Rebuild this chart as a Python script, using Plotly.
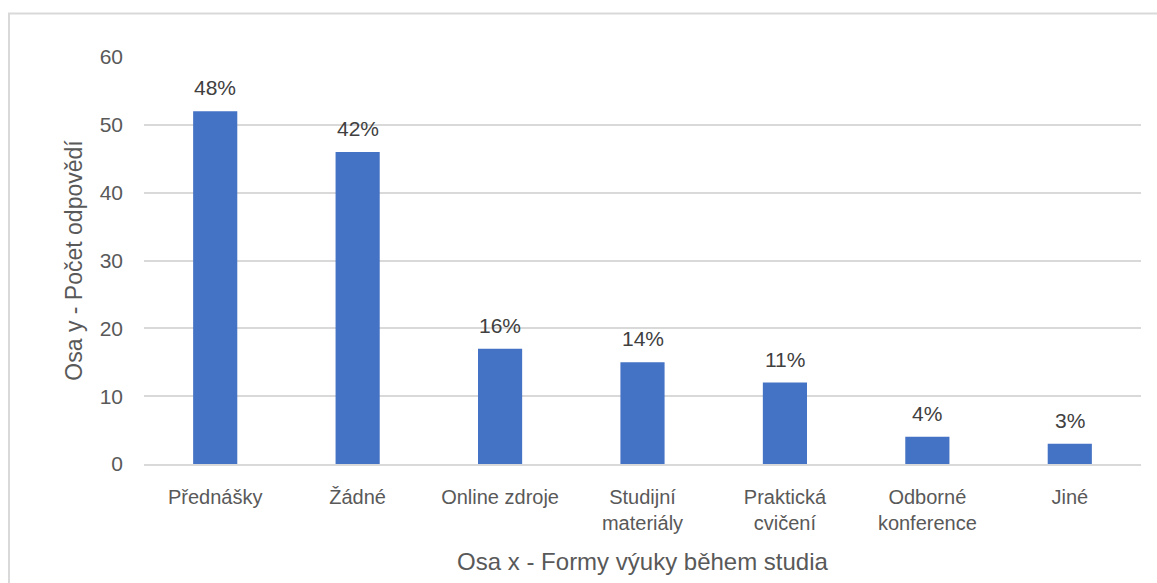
import plotly.graph_objects as go

# Survey results: number of answers per form of teaching
categories = ["Přednášky", "Žádné", "Online zdroje", "Studijní<br>materiály",
              "Praktická<br>cvičení", "Odborné<br>konference", "Jiné"]
counts = [52, 46, 17, 15, 12, 4, 3]
percent_labels = ["48%", "42%", "16%", "14%", "11%", "4%", "3%"]
y_ticks = [0, 10, 20, 30, 40, 50, 60]

FONT = "Liberation Sans"
TICK_COLOR = "#595959"
LABEL_COLOR = "#404040"
GRID = "#d9d9d9"

fig = go.Figure(
    go.Bar(
        x=categories,
        y=counts,
        marker=dict(color="#4472c4", line=dict(width=0)),
        width=0.31,
        hoverinfo="x+y",
    )
)

# Percentage labels above each bar
for cat, val, lab in zip(categories, counts, percent_labels):
    fig.add_annotation(
        x=cat, y=val, text=lab, showarrow=False,
        yanchor="bottom", yshift=10,
        font=dict(family=FONT, size=21, color=LABEL_COLOR),
    )

# Light frame around the whole chart
fig.add_shape(
    type="rect", xref="paper", yref="paper",
    x0=-0.1354, x1=1.2, y0=-0.6, y1=1.1069,
    line=dict(color=GRID, width=2), fillcolor="rgba(0,0,0,0)", layer="below",
)

fig.update_layout(
    width=1157, height=583,
    margin=dict(l=144, r=16, t=57, b=119),
    paper_bgcolor="white", plot_bgcolor="white",
    showlegend=False,
    font=dict(family=FONT, color=TICK_COLOR),
    xaxis=dict(
        showgrid=False, showline=True, linecolor=GRID, linewidth=2,
        ticks="", tickfont=dict(size=20, color=TICK_COLOR),
        ticklabelstandoff=14,
        title=dict(text="Osa x - Formy výuky během studia",
                   font=dict(size=24, color=TICK_COLOR), standoff=20),
    ),
    yaxis=dict(
        range=[0, 60], tickvals=y_ticks, showgrid=True, gridcolor=GRID,
        gridwidth=2, zeroline=False, showline=False, ticks="",
        tickfont=dict(size=21, color=TICK_COLOR), ticklabelstandoff=20,
        title=dict(text="Osa y - Počet odpovědí",
                   font=dict(size=23, color=TICK_COLOR), standoff=10),
    ),
)

fig.write_html("out.html")
